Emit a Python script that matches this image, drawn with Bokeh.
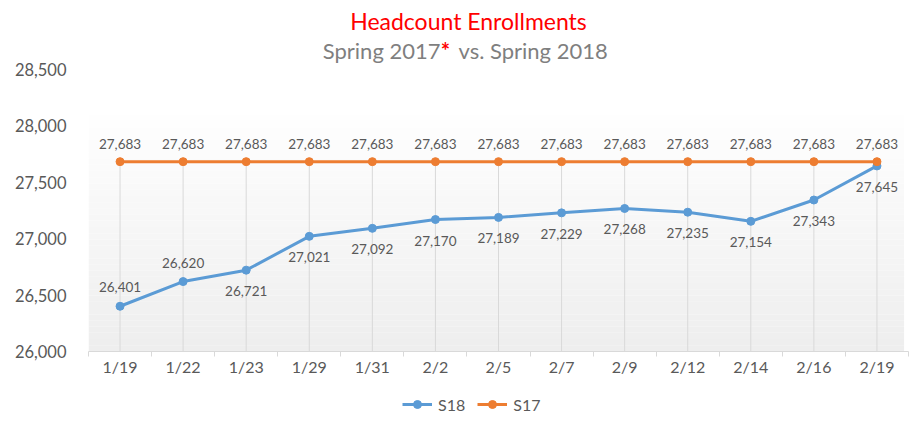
from bokeh.plotting import figure
from bokeh.layouts import column
from bokeh.models import (ColumnDataSource, FixedTicker, NumeralTickFormatter, Label,
                          BoxAnnotation, Legend, LegendItem, Range1d)
from bokeh.core.properties import value
from bokeh.embed import file_html
from bokeh.resources import INLINE

# ---- data ----
dates = ["1/19", "1/22", "1/23", "1/29", "1/31", "2/2", "2/5", "2/7", "2/9", "2/12", "2/14", "2/16", "2/19"]
s18 = [26401, 26620, 26721, 27021, 27092, 27170, 27189, 27229, 27268, 27235, 27154, 27343, 27645]
s17 = [27683, 27683, 27683, 27683, 27683, 27683, 27683, 27683, 27683, 27683, 27683, 27683, 27683]
y_ticks = [26000, 26500, 27000, 27500, 28000, 28500]
series_names = ["S18", "S17"]

# label placement style for S18 values (above / below the point)
s18_place = ["above", "above"] + ["below"] * 11

FONT = "Lato"
LABEL_COLOR = "#595959"
BLUE = "#5B9BD5"
ORANGE = "#ED7D31"

W = 913
H_MAIN, H_LEG = 392, 31
FRAME_L, FRAME_R, FRAME_B = 88, 908, 351
PX_PER_UNIT = (351 - 69) / (y_ticks[-1] - y_ticks[0])   # vertical scale of the value axis
y_top = y_ticks[0] + FRAME_B / PX_PER_UNIT               # frame reaches the top of the canvas (title area)

idx = list(range(len(dates)))

p = figure(width=W, height=H_MAIN, output_backend="svg", toolbar_location=None,
           x_range=Range1d(-0.5, len(dates) - 0.5),
           y_range=Range1d(y_ticks[0], y_top),
           min_border_left=FRAME_L, min_border_right=W - FRAME_R, min_border_top=0,
           min_border_bottom=H_MAIN - FRAME_B)
p.outline_line_color = None
p.xgrid.visible = False
p.ygrid.visible = False
p.background_fill_color = "white"
p.border_fill_color = "white"

# gradient plot-area background (decoration)
grad_top, grad_bottom = 28207, y_ticks[0]
nb = 40
for i in range(nb):
    t0 = grad_bottom + (grad_top - grad_bottom) * i / nb
    t1 = grad_bottom + (grad_top - grad_bottom) * (i + 1) / nb
    frac = i / (nb - 1)
    c = int(round(0xEE + (0xFF - 0xEE) * frac))
    p.add_layout(BoxAnnotation(bottom=t0, top=t1, left=-0.5, right=12.43,
                               fill_color="#%02x%02x%02x" % (c, c, c),
                               fill_alpha=1.0, line_color=None, level="underlay"))

# drop lines
top_vals = [max(a, b) for a, b in zip(s17, s18)]
p.segment(x0=idx, y0=[y_ticks[0]] * len(idx), x1=idx, y1=top_vals,
          line_color="#d9d9d9", line_width=1)

src = ColumnDataSource(dict(
    x=idx, s18=s18, s17=s17,
    s18_txt=[f"{v:,}" for v in s18],
    s17_txt=[f"{v:,}" for v in s17],
    s18_off=[-19 if pl == "above" else 21 for pl in s18_place],
))

p.line("x", "s18", source=src, line_color=BLUE, line_width=3)
p.scatter("x", "s18", source=src, size=8, fill_color=BLUE, line_color=BLUE)
p.line("x", "s17", source=src, line_color=ORANGE, line_width=3)
p.scatter("x", "s17", source=src, size=8, fill_color=ORANGE, line_color=ORANGE)

p.text("x", "s17", text="s17_txt", source=src, y_offset=-18, text_align="center",
       text_baseline="middle", text_font=value(FONT), text_font_size="13.5px",
       text_color=LABEL_COLOR)
p.text("x", "s18", text="s18_txt", source=src, y_offset="s18_off", text_align="center",
       text_baseline="middle", text_font=value(FONT), text_font_size="13.5px",
       text_color=LABEL_COLOR)

# axes
xa = p.xaxis[0]
xa.ticker = FixedTicker(ticks=idx, minor_ticks=[i - 0.5 for i in range(len(dates) + 1)])
xa.major_label_overrides = {i: d for i, d in enumerate(dates)}
xa.major_tick_line_color = None
xa.major_tick_out = 0
xa.major_tick_in = 0
xa.minor_tick_line_color = "#d9d9d9"
xa.minor_tick_in = 0
xa.minor_tick_out = 5
xa.axis_line_color = "#d9d9d9"
xa.major_label_text_font = FONT
xa.major_label_text_font_size = "16px"
xa.major_label_text_color = LABEL_COLOR
xa.major_label_standoff = 0

ya = p.yaxis[0]
ya.ticker = FixedTicker(ticks=y_ticks)
ya.formatter = NumeralTickFormatter(format="0,0")
ya.axis_line_color = None
ya.major_tick_line_color = None
ya.major_tick_out = 0
ya.major_tick_in = 0
ya.minor_tick_line_color = None
ya.major_label_text_font = FONT
ya.major_label_text_font_size = "16.5px"
ya.major_label_text_color = LABEL_COLOR
ya.major_label_standoff = 22

# titles (inside the frame's upper white area)
cx = (len(dates) - 1) / 2
top_tick = y_ticks[-1]
p.add_layout(Label(x=cx, y=top_tick, x_offset=-30, y_offset=49, text="Headcount Enrollments",
                   text_align="center", text_baseline="middle", text_font=FONT,
                   text_font_size="23px", text_color="#FF0000"))
p.add_layout(Label(x=cx, y=top_tick, x_offset=-58, y_offset=19, text="Spring 2017",
                   text_align="right", text_baseline="middle", text_font=FONT,
                   text_font_size="22px", text_color="#7F7F7F"))
p.add_layout(Label(x=cx, y=top_tick, x_offset=-53, y_offset=19, text="*",
                   text_align="center", text_baseline="middle", text_font=FONT,
                   text_font_style="bold", text_font_size="22px", text_color="#FF0000"))
p.add_layout(Label(x=cx, y=top_tick, x_offset=-40, y_offset=19, text="vs. Spring 2018",
                   text_align="left", text_baseline="middle", text_font=FONT,
                   text_font_size="22px", text_color="#7F7F7F"))

# legend strip below the chart (its frame is aligned with the chart's frame)
leg = figure(width=W, height=H_LEG, output_backend="svg", toolbar_location=None,
             x_range=Range1d(0, 1), y_range=Range1d(0, 1),
             x_axis_type=None, y_axis_type=None,
             min_border_left=0, min_border_right=0, min_border_top=0, min_border_bottom=0)
leg.outline_line_color = None
leg.xgrid.visible = False
leg.ygrid.visible = False
nan = float("nan")
items = []
for name, col in zip(series_names, [BLUE, ORANGE]):
    r1 = leg.line(x=[nan, nan], y=[nan, nan], line_color=col, line_width=3)
    r2 = leg.scatter(x=[nan], y=[nan], size=8, fill_color=col, line_color=col)
    items.append(LegendItem(label=name, renderers=[r1, r2]))
legend = Legend(items=items, orientation="horizontal", location=(314, 9),
                padding=0, margin=0, spacing=12, glyph_width=30, glyph_height=20,
                label_standoff=6, label_text_font=FONT, label_text_font_size="16px",
                label_text_color=LABEL_COLOR, background_fill_alpha=0,
                border_line_color=None)
leg.add_layout(legend)

layout = column(p, leg, spacing=0)
open("out.html", "w").write(file_html(layout, INLINE))
